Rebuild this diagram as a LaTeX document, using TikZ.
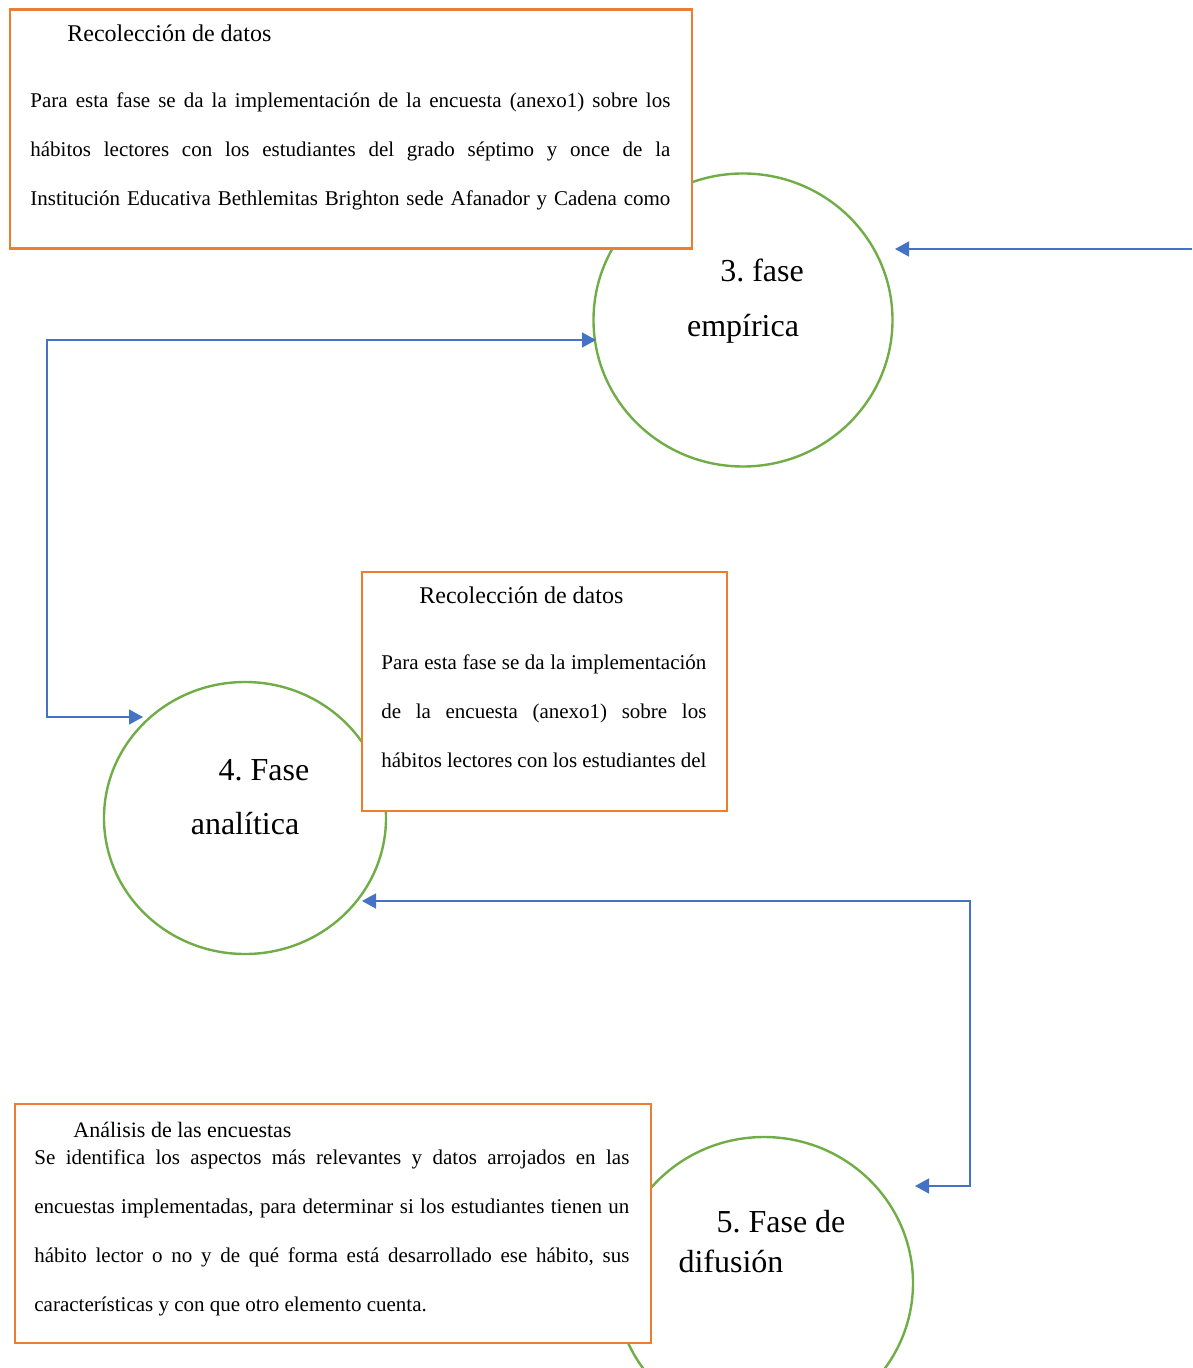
\documentclass[tikz,border=0pt]{standalone}
\usepackage{fontspec}
\setmainfont{Liberation Serif}
\usetikzlibrary{arrows.meta,shapes.geometric}
\definecolor{orng}{HTML}{ED7D31}
\definecolor{grn}{HTML}{70AD47}
\definecolor{blu}{HTML}{4472C4}
\frenchspacing
\begin{document}
\begin{tikzpicture}[x=0.5pt,y=-0.5pt,
  phase/.style={draw=grn,line width=1.2pt,ellipse,inner sep=0pt},
  txtbox/.style={draw=orng,line width=1.3pt,fill=white,rectangle,inner sep=0pt,anchor=north west},
  head/.style={anchor=base west,inner sep=0pt,font=\fontsize{12}{14}\selectfont},
  body/.style={anchor=base west,inner sep=0pt,font=\fontsize{10.5}{12}\selectfont},
  ptext/.style={anchor=base,inner sep=0pt,font=\fontsize{16}{19}\selectfont},
  conn/.style={draw=blu,line width=0.75pt,{Triangle[length=7pt,width=7.5pt]}-{Triangle[length=7pt,width=7.5pt]}},
  conn1/.style={draw=blu,line width=0.75pt,-{Triangle[length=7pt,width=7.5pt]}}]
\useasboundingbox (0,0) rectangle (1192,1368);
\clip (0,0) rectangle (1192,1368);

% circles
\node[phase,minimum width=149.5pt,minimum height=146.5pt] (c3) at (743,320) {};
\node[phase,minimum width=141pt,minimum height=136pt] (c4) at (245,818) {};
\node[phase,minimum width=149pt,minimum height=146pt] (c5) at (764,1283) {};

% phase labels
\node[ptext] (t3a) at (762,282) {3. fase};
\node[ptext] (t3b) at (743,337) {empírica};
\node[ptext] (t4a) at (264,780) {4. Fase};
\node[ptext] (t4b) at (245,834) {analítica};
\node[ptext] (t5a) at (781,1232) {5. Fase de};
\node[ptext] (t5b) at (731,1272) {difusión};

% box 1
\node[txtbox,minimum width=341pt,minimum height=119.5pt] (b1) at (8.5,8.5) {};
\node[head] (h1) at (67,42) {Recolección de datos};
\node[body] (l11) at (30,108) {\makebox[320pt][s]{Para esta fase se da la implementación de la encuesta (anexo1) sobre los}};
\node[body] (l12) at (30,157) {\makebox[320pt][s]{hábitos lectores con los estudiantes del grado séptimo y once de la}};
\node[body] (l13) at (30,206) {\makebox[320pt][s]{Institución Educativa Bethlemitas Brighton sede Afanador y Cadena como}};

% box 2
\node[txtbox,minimum width=182.5pt,minimum height=119.5pt] (b2) at (360.5,570.5) {};
\node[head] (h2) at (419,603) {Recolección de datos};
\node[body] (l21) at (381,669) {\makebox[162.5pt][s]{Para esta fase se da la implementación}};
\node[body] (l22) at (381,718) {\makebox[162.5pt][s]{de la encuesta (anexo1) sobre los}};
\node[body] (l23) at (381,767) {\makebox[162.5pt][s]{hábitos lectores con los estudiantes del}};

% box 3
\node[txtbox,minimum width=318pt,minimum height=119.5pt] (b3) at (13.5,1102.5) {};
\node[head,font=\fontsize{11}{13}\selectfont] (h3) at (73,1137) {Análisis de las encuestas};
\node[body] (l31) at (34,1164) {\makebox[297.5pt][s]{Se identifica los aspectos más relevantes y datos arrojados en las}};
\node[body] (l32) at (34,1213) {\makebox[297.5pt][s]{encuestas implementadas, para determinar si los estudiantes tienen un}};
\node[body] (l33) at (34,1262) {\makebox[297.5pt][s]{hábito lector o no y de qué forma está desarrollado ese hábito, sus}};
\node[body] (l34) at (34,1311) {características y con que otro elemento cuenta.};

% connectors
\coordinate (r1) at (1192,249);
\coordinate (p3r) at (895,249);
\draw[conn1] (r1) -- (p3r);

\coordinate (p4l) at (143,717);
\coordinate (k1) at (47,340);
\coordinate (p3l) at (596,340);
\draw[conn] (p4l) -| (k1) -- (p3l);

\coordinate (p4r) at (362,901);
\coordinate (k2) at (970,901);
\coordinate (p5r) at (915,1186);
\draw[conn] (p4r) -- (k2) |- (p5r);
\end{tikzpicture}
\end{document}
